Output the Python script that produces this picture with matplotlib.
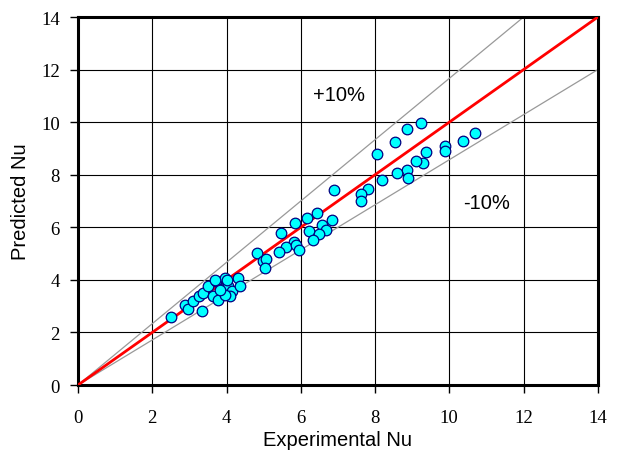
import matplotlib
matplotlib.use('Agg')
import matplotlib.pyplot as plt

# experimental vs predicted Nu
exp_nu = [9.25, 8.85, 8.55, 8.06, 10.69, 10.36, 9.88, 9.88, 9.37, 9.30,
          9.10, 8.85, 8.58, 8.88, 8.20, 7.82, 7.61, 7.61, 6.90,
          6.45, 6.85, 6.56, 6.16, 5.84, 6.22, 6.69, 6.50, 6.33, 5.48,
          5.81, 5.60, 5.86, 5.95, 5.42, 4.83, 4.97, 5.06, 5.03,
          2.50, 2.88, 2.97, 3.10, 3.33, 3.27, 3.37, 3.51, 3.64, 3.73,
          3.96, 3.87, 4.05, 4.14, 3.78, 4.32, 4.36, 4.09, 4.00, 3.69,
          3.96, 3.82]
pred_nu = [9.98, 9.75, 9.26, 8.80, 9.58, 9.28, 9.09, 8.90, 8.86, 8.46,
           8.52, 8.20, 8.08, 7.89, 7.80, 7.44, 7.25, 6.99, 7.41,
           6.55, 6.28, 6.07, 6.34, 6.15, 5.87, 5.91, 5.75, 5.53, 5.78,
           5.45, 5.25, 5.31, 5.12, 5.05, 5.02, 4.70, 4.78, 4.45,
           2.57, 3.05, 2.89, 3.18, 2.80, 3.37, 3.50, 3.75, 3.40, 3.94,
           4.07, 3.65, 3.75, 3.56, 3.24, 4.07, 3.75, 3.37, 4.01, 4.01,
           3.43, 3.62]

ticks = [0, 2, 4, 6, 8, 10, 12, 14]
line_x = [0, 14]
upper_x = [0, 12]   # +10% band ends at (12, 14)
lower_y = [0, 12]   # -10% band ends at (14, 12)

fig = plt.figure(figsize=(6.21, 4.52), dpi=100)
ax = fig.add_axes([0.1256, 0.146, 0.837, 0.814])

ax.plot(upper_x, [0, 14], color='#999999', lw=0.9, zorder=2)
ax.plot(line_x, lower_y, color='#999999', lw=0.9, zorder=2)
ax.plot(line_x, line_x, color='#ff0000', lw=2.0, zorder=3)
ax.scatter(exp_nu, pred_nu, s=58, c='#00ffff', edgecolors='#000080',
           linewidths=0.9, zorder=4)

ax.set_xlim(0, 14)
ax.set_ylim(0, 14)
ax.set_xticks(ticks)
ax.set_yticks(ticks)
ax.grid(True, color='black', lw=0.8)
ax.set_axisbelow(True)
for sp in ax.spines.values():
    sp.set_linewidth(2.2)

tick_font = {'family': 'Liberation Serif', 'size': 13.5}
ax.set_xticklabels([str(t) for t in ticks], fontdict=tick_font)
ax.set_yticklabels([str(t) for t in ticks], fontdict=tick_font)
ax.tick_params(axis='x', length=6, width=1, pad=11)
ax.tick_params(axis='y', length=6, width=1, pad=7)

lab_font = {'family': 'Liberation Sans', 'size': 14.5}
ax.set_xlabel('Experimental Nu', fontdict=lab_font, labelpad=3)
ax.set_ylabel('Predicted Nu', fontdict=lab_font, labelpad=8)

ax.text(7.03, 11.06, '+10%', family='Liberation Sans', size=14.5,
        ha='center', va='center')
ax.text(11.01, 6.94, '-10%', family='Liberation Sans', size=14.5,
        ha='center', va='center')

plt.savefig('out.png', dpi=100)
